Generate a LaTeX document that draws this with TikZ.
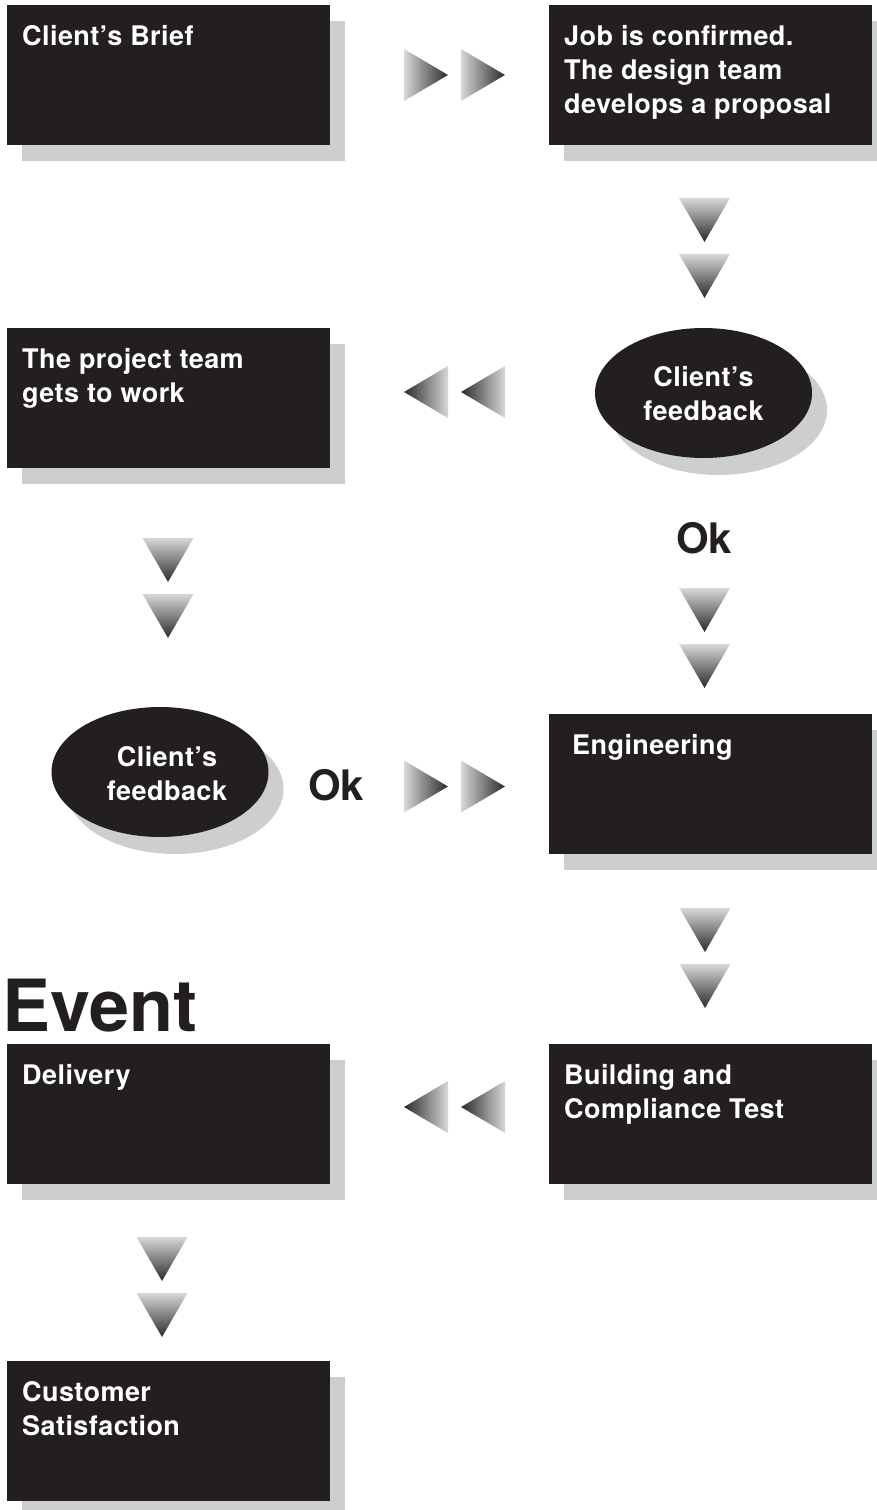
\documentclass[tikz,border=0pt]{standalone}
\usepackage{fontspec}
\setmainfont{TeX Gyre Heros}
\newfontfamily\boxfont[LetterSpace=1.6]{TeX Gyre Heros}
\usetikzlibrary{shapes.geometric,shadows}
\definecolor{boxblack}{HTML}{231F20}
\definecolor{shadowgray}{HTML}{CDCFCC}
\definecolor{arrowlight}{HTML}{D8D8D8}
\definecolor{arrowdark}{HTML}{2A2A2A}
\tikzset{
  boxnode/.style={fill=boxblack, minimum width=323pt, minimum height=140pt, inner sep=0pt, anchor=north west,
    drop shadow={shadow xshift=15pt, shadow yshift=-16pt, fill=shadowgray, opacity=1}},
  boxtext/.style={text=white, inner sep=0pt, anchor=base west, font=\boxfont\fontsize{27}{34}\selectfont\bfseries},
  ellnode/.style={ellipse, fill=boxblack, minimum width=217pt, minimum height=130pt, inner sep=0pt,
    drop shadow={shadow xshift=15pt, shadow yshift=-17pt, fill=shadowgray, opacity=1}},
  elltext/.style={text=white, inner sep=0pt, align=center, font=\boxfont\fontsize{27}{34}\selectfont\bfseries},
  oktext/.style={text=boxblack, inner sep=0pt, anchor=base west, font=\fontsize{42}{42}\selectfont\bfseries},
  eventtext/.style={text=boxblack, inner sep=0pt, anchor=base west, font=\fontsize{72}{72}\selectfont\bfseries},
  tri right/.pic={\shade[left color=arrowlight, right color=arrowdark] (0,-26) -- (44,0) -- (0,26) -- cycle;},
  tri left/.pic={\shade[left color=arrowdark, right color=arrowlight] (44,-26) -- (0,0) -- (44,26) -- cycle;},
  tri down/.pic={\shade[top color=arrowlight, bottom color=arrowdark] (-25.5,0) -- (25.5,0) -- (0,44) -- cycle;},
  dbl right/.pic={\pic at (0,0) {tri right}; \pic at (57,0) {tri right};},
  dbl left/.pic={\pic at (0,0) {tri left}; \pic at (57,0) {tri left};},
  dbl down/.pic={\pic at (0,0) {tri down}; \pic at (0,56) {tri down};},
}
\begin{document}
\begin{tikzpicture}[x=1pt,y=-1pt]
\useasboundingbox (0,0) rectangle (877,1510);
% boxes
\node[boxnode] (b1) at (7,5) {};
\node[boxnode] (b2) at (549,5) {};
\node[boxnode] (b3) at (7,328) {};
\node[boxnode] (b4) at (549,714) {};
\node[boxnode] (b5) at (549,1044) {};
\node[boxnode] (b6) at (7,1044) {};
\node[boxnode] (b7) at (7,1361) {};
% box texts
\node[boxtext] (t1) at ([shift={(15,40)}]b1.north west) {\begin{tabular}[t]{@{}l@{}}Client’s Brief\end{tabular}};
\node[boxtext] (t2) at ([shift={(15,40)}]b2.north west) {\begin{tabular}[t]{@{}l@{}}Job is confirmed.\\The design team\\develops a proposal\end{tabular}};
\node[boxtext] (t3) at ([shift={(15,40)}]b3.north west) {\begin{tabular}[t]{@{}l@{}}The project team\\gets to work\end{tabular}};
\node[boxtext] (t4) at ([shift={(23,40)}]b4.north west) {\begin{tabular}[t]{@{}l@{}}Engineering\end{tabular}};
\node[boxtext] (t5) at ([shift={(15,40)}]b5.north west) {\begin{tabular}[t]{@{}l@{}}Building and\\Compliance Test\end{tabular}};
\node[boxtext] (t6) at ([shift={(15,40)}]b6.north west) {\begin{tabular}[t]{@{}l@{}}Delivery\end{tabular}};
\node[boxtext] (t7) at ([shift={(15,40)}]b7.north west) {\begin{tabular}[t]{@{}l@{}}Customer\\Satisfaction\end{tabular}};
% ellipses
\node[ellnode] (e1) at (703.5,393) {};
\node[ellnode] (e2) at (160,772) {};
\node[elltext] (et1) at ([shift={(0,1)}]e1.center) {Client’s\\feedback};
\node[elltext] (et2) at ([shift={(7,2)}]e2.center) {Client’s\\feedback};
% labels
\node[oktext] (ok1) at (676,553) {Ok};
\node[oktext] (ok2) at (308,800) {Ok};
\node[eventtext] (ev) at (2,1031) {Event};
% arrow pairs
\coordinate (a1) at (404,75);
\coordinate (a2) at (704.5,198);
\coordinate (a3) at (404,392);
\coordinate (a4) at (168,538);
\coordinate (a5) at (704.5,588);
\coordinate (a6) at (404,786.5);
\coordinate (a7) at (705,908);
\coordinate (a8) at (404,1107);
\coordinate (a9) at (162,1237);
\pic at (a1) {dbl right};
\pic at (a2) {dbl down};
\pic at (a3) {dbl left};
\pic at (a4) {dbl down};
\pic at (a5) {dbl down};
\pic at (a6) {dbl right};
\pic at (a7) {dbl down};
\pic at (a8) {dbl left};
\pic at (a9) {dbl down};
\end{tikzpicture}
\end{document}
